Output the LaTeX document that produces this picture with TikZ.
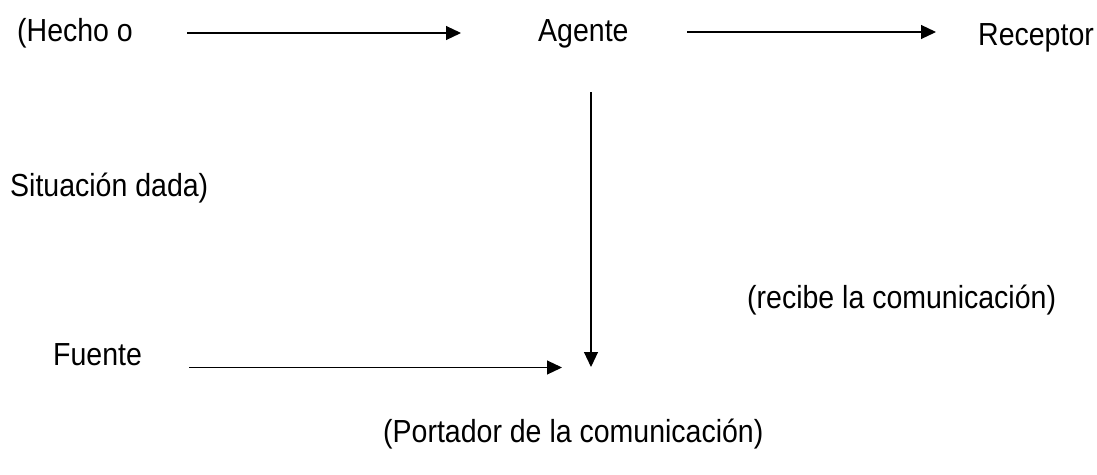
\documentclass[tikz,border=0pt]{standalone}
\usepackage{fontspec}
\usepackage{graphicx}
\setmainfont{Liberation Sans}
\usetikzlibrary{arrows.meta}
\newcommand{\tallt}[1]{\scalebox{1}[1.12]{#1}}
\begin{document}
\begin{tikzpicture}[x=1pt,y=-1pt,
  lbl/.style={inner sep=0pt, anchor=base west, font=\fontsize{28.5}{34}\selectfont},
  conn/.style={line width=1.1pt, -{Triangle[length=15pt,width=14pt]}}]
\useasboundingbox (0,0) rectangle (1097,474);
\node[lbl] (hecho) at (17,41) {\tallt{(Hecho o}};
\node[lbl] (agente) at (538,41) {\tallt{Agente}};
\node[lbl] (receptor) at (978,45) {\tallt{Receptor}};
\node[lbl] (situacion) at (10,196) {\tallt{Situación dada)}};
\node[lbl] (recibe) at (747,308) {\tallt{(recibe la comunicación)}};
\node[lbl] (fuente) at (53,365) {\tallt{Fuente}};
\node[lbl] (portador) at (383,442) {\tallt{(Portador de la comunicación)}};
\coordinate (a1s) at (187,33);
\coordinate (a1e) at (461,33);
\coordinate (a2s) at (687,32);
\coordinate (a2e) at (936,32);
\coordinate (vs) at (591,92);
\coordinate (ve) at (591,367);
\coordinate (fs) at (189,367.5);
\coordinate (fe) at (562,367.5);
\draw[conn] (a1s) -- (a1e);
\draw[conn] (a2s) -- (a2e);
\draw[conn] (vs) -- (ve);
\draw[conn] (fs) -- (fe);
\end{tikzpicture}
\end{document}
